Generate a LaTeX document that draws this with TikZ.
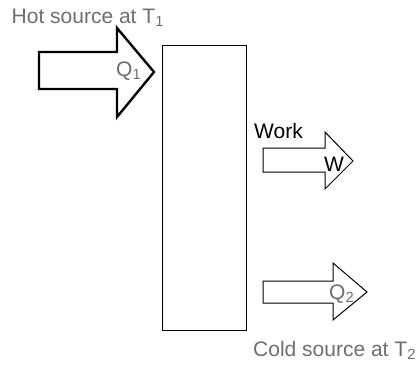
\documentclass[tikz,border=0pt]{standalone}
\usepackage{fontspec}
\setmainfont{Liberation Sans}
\definecolor{txtgray}{HTML}{6E6E6E}
\tikzset{
  fatarrow/.style={draw=black, line width=2.4pt, line join=miter, fill=white},
  thinarrow/.style={draw=black, line width=1pt, line join=miter, fill=white},
  graylabel/.style={text=txtgray, inner sep=0pt, anchor=base west, font=\fontsize{21}{24}\selectfont},
  blacklabel/.style={text=black, inner sep=0pt, anchor=base west, font=\fontsize{21}{24}\selectfont},
  engine/.style={draw=black, line width=1pt, minimum width=84pt, minimum height=285pt, inner sep=0pt}
}
\begin{document}
\begin{tikzpicture}[x=1pt,y=-1pt]
\useasboundingbox (0,0) rectangle (420,365);
% engine box
\node[engine] (box) at (204,187.5) {};
% Q1 arrow
\draw[fatarrow] (39,52) -- (117,52) -- (117,28) -- (154,72) -- (117,117) -- (117,89) -- (39,89) -- cycle;
% Work arrow
\draw[thinarrow] (263,148) -- (325,148) -- (325,132) -- (353,161) -- (325,189) -- (325,172) -- (263,172) -- cycle;
% Q2 arrow
\draw[thinarrow] (263,281) -- (333,281) -- (333,263) -- (367,292) -- (333,320) -- (333,303) -- (263,303) -- cycle;
% labels
\node[graylabel] (hot) at (11.5,23) {Hot source at T\textsubscript{1}};
\node[graylabel] (q1) at (116,76) {Q\textsubscript{1}};
\node[blacklabel] (work) at (254,138) {Work};
\node[blacklabel] (w) at (324,171) {W};
\node[graylabel] (q2) at (329,299) {Q\textsubscript{2}};
\node[graylabel] (cold) at (253,356) {Cold source at T\textsubscript{2}};
\end{tikzpicture}
\end{document}
